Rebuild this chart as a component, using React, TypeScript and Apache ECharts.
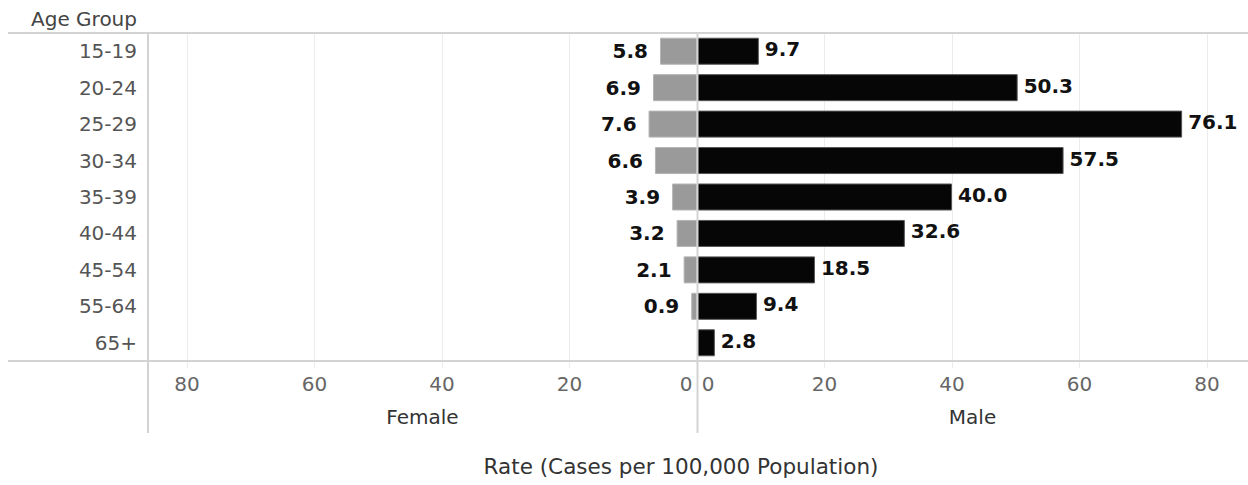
import React, { useEffect, useRef } from "react";
import * as echarts from "echarts";

const categories = ["15-19", "20-24", "25-29", "30-34", "35-39", "40-44", "45-54", "55-64", "65+"];
const femaleRates = [5.8, 6.9, 7.6, 6.6, 3.9, 3.2, 2.1, 0.9, null];
const maleRates = [9.7, 50.3, 76.1, 57.5, 40.0, 32.6, 18.5, 9.4, 2.8];
const tickInterval = 20;
const lastTick = 80;
const femaleMax = 86.12;
const maleMax = 86.43;

const FONT = "DejaVu Sans, Verdana, sans-serif";

export default function App() {
  const ref = useRef<HTMLDivElement>(null);

  useEffect(() => {
    if (!ref.current) return;
    const chart = echarts.init(ref.current, null, { renderer: "svg" });

    const tickFmt = (v: number) => {
      if (v === 0) return "{z|0}";
      if (v > lastTick + 0.5) return "";
      return String(v);
    };

    const frameColor = "#d3d3d3";
    const gridColor = "#ececec";

    const xAxisCommon = (side: "left" | "right") => ({
      type: "value",
      min: 0,
      interval: tickInterval,
      position: "bottom",
      axisLine: { show: false },
      axisTick: { show: true, length: 7, lineStyle: { color: gridColor, width: 1 } },
      splitLine: { show: true, lineStyle: { color: gridColor, width: 1 } },
      axisLabel: {
        margin: 13,
        fontSize: 20,
        color: "#666",
        fontFamily: FONT,
        showMaxLabel: false,
        formatter: tickFmt,
        rich: {
          z: {
            fontSize: 20,
            color: "#666",
            fontFamily: FONT,
            padding: side === "left" ? [0, 22, 0, 0] : [0, 0, 0, 22],
          },
        },
      },
      nameLocation: "middle",
      nameGap: 46,
      nameTextStyle: { fontSize: 20, color: "#333", fontFamily: FONT },
    });

    const option: any = {
      animation: false,
      backgroundColor: "#fff",
      grid: [
        { left: 148, width: 549, top: 33, height: 328 },
        { left: 697, width: 551, top: 33, height: 328 },
      ],
      xAxis: [
        { ...xAxisCommon("left"), gridIndex: 0, inverse: true, max: femaleMax, name: "Female" },
        { ...xAxisCommon("right"), gridIndex: 1, max: maleMax, name: "Male" },
      ],
      yAxis: [
        {
          type: "category",
          gridIndex: 0,
          data: categories,
          inverse: true,
          position: "left",
          axisLine: { show: false },
          axisTick: { show: false },
          splitLine: { show: false },
          axisLabel: { margin: 11, fontSize: 20, color: "#555", fontFamily: FONT },
        },
        {
          type: "category",
          gridIndex: 1,
          data: categories,
          inverse: true,
          axisLine: { show: false },
          axisTick: { show: false },
          splitLine: { show: false },
          axisLabel: { show: false },
        },
      ],
      series: [
        {
          name: "Female",
          type: "bar",
          xAxisIndex: 0,
          yAxisIndex: 0,
          data: femaleRates,
          barWidth: 27,
          itemStyle: { color: "#9a9a9a", borderColor: "#b4b4b4", borderWidth: 1 },
          label: {
            show: true,
            position: "left",
            distance: 12,
            fontSize: 20,
            fontWeight: "bold",
            color: "#111",
            fontFamily: FONT,
            formatter: (p: any) => (p.value == null ? "" : Number(p.value).toFixed(1)),
          },
        },
        {
          name: "Male",
          type: "bar",
          xAxisIndex: 1,
          yAxisIndex: 1,
          data: maleRates,
          barWidth: 27,
          itemStyle: { color: "#060606", borderColor: "#555", borderWidth: 1 },
          label: {
            show: true,
            position: "right",
            distance: 6,
            offset: [0, -2],
            fontSize: 20,
            fontWeight: "bold",
            color: "#111",
            fontFamily: FONT,
            formatter: (p: any) => Number(p.value).toFixed(1),
          },
        },
      ],
      graphic: [
        { type: "line", z: 100, shape: { x1: 8, y1: 33, x2: 1248, y2: 33 }, style: { stroke: frameColor, lineWidth: 2 } },
        { type: "line", z: 100, shape: { x1: 8, y1: 361, x2: 1248, y2: 361 }, style: { stroke: frameColor, lineWidth: 2 } },
        { type: "line", z: 100, shape: { x1: 148, y1: 33, x2: 148, y2: 433 }, style: { stroke: frameColor, lineWidth: 2 } },
        { type: "line", z: 100, shape: { x1: 697.5, y1: 33, x2: 697.5, y2: 433 }, style: { stroke: frameColor, lineWidth: 2 } },
        {
          type: "text",
          x: 137,
          y: 19,
          style: { text: "Age Group", fontSize: 20, fill: "#444", fontFamily: FONT, textAlign: "right", textVerticalAlign: "middle" },
        },
        {
          type: "text",
          x: 681,
          y: 466,
          style: {
            text: "Rate (Cases per 100,000 Population)",
            fontSize: 21.5,
            fill: "#333",
            fontFamily: FONT,
            textAlign: "center",
            textVerticalAlign: "middle",
          },
        },
      ],
    };

    chart.setOption(option);
    return () => chart.dispose();
  }, []);

  return (
    <div
      ref={ref}
      style={{ position: "absolute", left: 0, top: 0, width: 1248, height: 485 }}
    />
  );
}
